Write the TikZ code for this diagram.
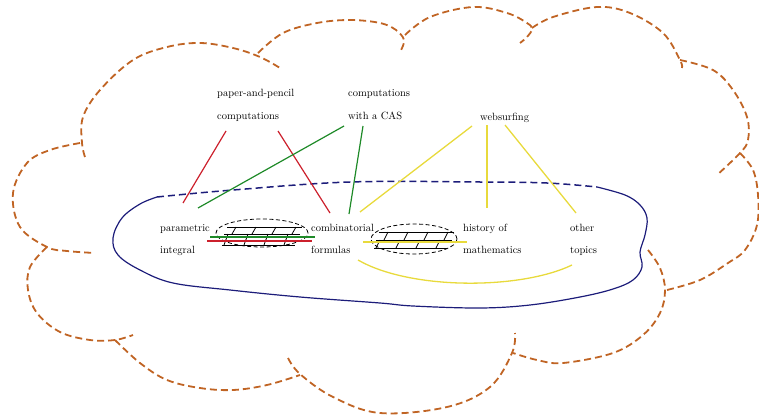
\documentclass[tikz,border=0pt]{standalone}
\usetikzlibrary{calc}
\definecolor{cloudbrown}{RGB}{192,100,36}
\definecolor{setblue}{RGB}{28,28,122}
\definecolor{linkred}{RGB}{204,32,44}
\definecolor{linkgreen}{RGB}{30,138,40}
\definecolor{linkyellow}{RGB}{232,218,60}
\begin{document}
\begin{tikzpicture}[x=1pt,y=-1pt,
  cloudline/.style={draw=cloudbrown,line width=1.8pt,dash pattern=on 7pt off 4pt},
  lbl/.style={anchor=base west,inner sep=0pt,font=\fontsize{10.5}{12}\selectfont},
  redlink/.style={draw=linkred,line width=1.2pt},
  greenlink/.style={draw=linkgreen,line width=1.2pt},
  yellowlink/.style={draw=linkyellow,line width=1.3pt},
  hatchbox/.style={draw=black,line width=0.8pt},
  hatchring/.style={draw=black,line width=0.8pt,dash pattern=on 4pt off 2.5pt}]
\useasboundingbox (0,0) rectangle (759,417);

% cloud outline, one dashed bump at a time
\draw[cloudline] plot[smooth,tension=0.6] coordinates {(85,157) (82,143) (83,117) (100,90) (133,60) (167,47) (200,43) (233,48) (260,57) (280,68)};
\draw[cloudline] plot[smooth,tension=0.6] coordinates {(258,53) (283,33) (317,23) (350,20) (380,23) (396,30) (404,40) (401,50)};
\draw[cloudline] plot[smooth,tension=0.6] coordinates {(405,35) (430,17) (473,7) (507,13) (527,23) (532,29) (527,37) (520,43)};
\draw[cloudline] plot[smooth,tension=0.6] coordinates {(532,28) (553,17) (597,7) (630,13) (663,33) (680,60) (682,68)};
\draw[cloudline] plot[smooth,tension=0.6] coordinates {(680,60) (713,70) (733,90) (747,117) (748,140) (740,153) (717,175)};
\draw[cloudline] plot[smooth,tension=0.6] coordinates {(740,153) (753,170) (758,195) (757,225) (745,250) (728,263) (700,280) (667,290)};
\draw[cloudline] plot[smooth,tension=0.6] coordinates {(648,250) (660,268) (665,290) (660,313) (643,335) (613,353) (563,363) (537,360) (513,353)};
\draw[cloudline] plot[smooth,tension=0.6] coordinates {(288,358) (300,374) (333,397) (380,413) (447,407) (490,387) (512,353) (515,333)};
\draw[cloudline] plot[smooth,tension=0.6] coordinates {(115,340) (140,363) (167,380) (200,388) (233,390) (267,385) (300,375)};
\draw[cloudline] plot[smooth,tension=0.6] coordinates {(47,247) (30,267) (28,290) (37,313) (60,332) (90,340) (115,340) (133,335)};
\draw[cloudline] plot[smooth,tension=0.6] coordinates {(80,143) (50,150) (27,163) (13,193) (20,227) (47,247) (67,251) (95,253)};

% the topic set: dashed upper rim, solid lower rim
\draw[setblue,line width=1.5pt,dash pattern=on 7pt off 4pt] plot[smooth,tension=0.6] coordinates {(157,197) (233,190) (350,182) (480,182) (547,183) (597,187)};
\draw[setblue,line width=1.2pt] plot[smooth,tension=0.6] coordinates {(597,187) (625,195) (640,205) (647,218) (645,235) (640,252) (642,267) (633,280) (613,289) (580,297) (530,305) (480,308) (413,306) (380,303) (300,297) (230,290) (173,283) (140,270) (118,255) (113,238) (122,218) (140,204) (157,197)};

% labels
\node[lbl] (pp)  at (217,97)  {paper-and-pencil};
\node[lbl] (ppb) at (217,119) {computations};
\node[lbl] (cas)  at (348,97)  {computations};
\node[lbl] (casb) at (348,119) {with a CAS};
\node[lbl] (web) at (480,120) {websurfing};
\node[lbl] (par)  at (160,231) {parametric};
\node[lbl] (parb) at (160,253) {integral};
\node[lbl] (com)  at (311,231) {combinatorial};
\node[lbl] (comb) at (311,253) {formulas};
\node[lbl] (his)  at (463,231) {history of};
\node[lbl] (hisb) at (463,253) {mathematics};
\node[lbl] (oth)  at (570,231) {other};
\node[lbl] (othb) at (570,253) {topics};

% hatched overlap regions
\coordinate (ovA) at (262,233);
\coordinate (ovB) at (414,239);
\draw[hatchring] (ovA) ellipse [x radius=46pt,y radius=14pt];
\draw[hatchring] (ovB) ellipse [x radius=43pt,y radius=15pt];
\foreach \c/\t/\m/\b in {ovA/-6/1/12, ovB/-7/1/9} {
  \draw[hatchbox] ($(\c)+(-35,\t)$) -- ($(\c)+(40,\t)$);
  \draw[hatchbox] ($(\c)+(-38,\m)$) -- ($(\c)+(38,\m)$);
  \draw[hatchbox] ($(\c)+(-40,\b)$) -- ($(\c)+(33,\b)$);
  \foreach \x in {-26,-6,14,34} \draw[hatchbox] ($(\c)+(\x-4,\m)$) -- ($(\c)+(\x,\t)$);
  \foreach \x in {-34,-14,6,26} \draw[hatchbox] ($(\c)+(\x-4,\b)$) -- ($(\c)+(\x,\m)$);
}

% links from the activities to the topics
\draw[redlink] ($(ppb.base west)+(9,12)$) -- ($(par.base west)+(23,-28)$);
\draw[redlink] ($(ppb.base west)+(61,12)$) -- ($(com.base west)+(19,-18)$);
\draw[greenlink] ($(casb.base west)+(-4,7)$) -- ($(par.base west)+(38,-23)$);
\draw[greenlink] ($(casb.base west)+(15,7)$) -- ($(com.base west)+(38,-17)$);
\draw[yellowlink] ($(web.base west)+(-8,6)$) -- ($(com.base west)+(49,-19)$);
\draw[yellowlink] ($(web.base west)+(7,5)$) -- ($(his.base west)+(24,-23)$);
\draw[yellowlink] ($(web.base west)+(25,5)$) -- ($(oth.base west)+(6,-18)$);

% links running through the overlaps
\draw[greenlink] ($(ovA)+(-52,4)$) -- ($(ovA)+(53,4)$);
\draw[redlink] ($(ovA)+(-55,8)$) -- ($(ovA)+(50,8)$);
\draw[yellowlink] ($(ovB)+(-51,3)$) -- ($(ovB)+(53,3)$);
\draw[yellowlink] ($(comb.base west)+(47,7)$) .. controls (410,290) and (520,290) .. ($(othb.base west)+(2,12)$);
\end{tikzpicture}
\end{document}
